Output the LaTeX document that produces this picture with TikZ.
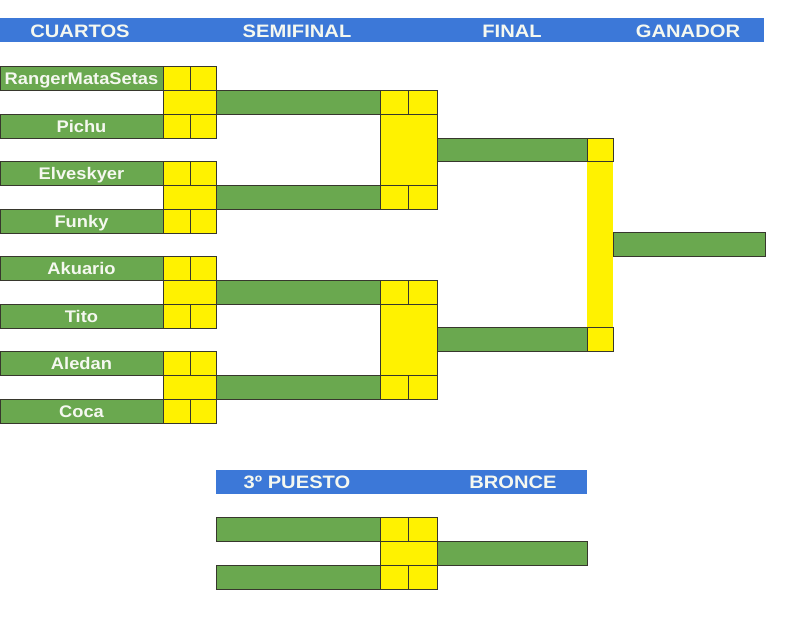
\documentclass[tikz,border=0pt]{standalone}
\usepackage{fontspec}
\setmainfont{Liberation Sans}
\usepackage{graphicx}
\definecolor{gr}{RGB}{106,168,79}
\definecolor{hb}{RGB}{60,120,216}
\definecolor{ln}{RGB}{55,55,45}
\definecolor{tx}{RGB}{245,248,240}
\newcommand\hdrtxt[1]{\scalebox{1.12}[1]{\fontsize{18}{18}\selectfont\bfseries #1}}
\newcommand\nametxt[1]{\scalebox{1.09}[1]{\fontsize{16.8}{17}\selectfont\bfseries #1}}
\tikzset{
  cell/.style={inner sep=0pt, outer sep=0pt, anchor=north west, line width=0.8pt},
  gbar/.style={cell, draw=ln, fill=gr, text=tx, text height=12.5pt, text depth=0pt},
  ybox/.style={cell, draw=ln, fill=yellow},
  yfill/.style={cell, fill=yellow},
  hbar/.style={cell, fill=hb},
  hlabel/.style={text=tx, inner sep=0pt, anchor=base}
}
\begin{document}
\begin{tikzpicture}[x=1pt,y=-1pt]
\useasboundingbox (0,0) rectangle (800,625);
% header
\node[hbar, minimum width=764pt, minimum height=24pt] (hdr) at (0,18) {};
\node[hlabel] (hc) at (80,37.3) {\hdrtxt{CUARTOS}};
\node[hlabel] (hs) at (297,37.3) {\hdrtxt{SEMIFINAL}};
\node[hlabel] (hf) at (512,37.3) {\hdrtxt{FINAL}};
\node[hlabel] (hg) at (688,37.3) {\hdrtxt{GANADOR}};
% quarter-finals
\foreach \b/\na/\nb/\k in {66/RangerMataSetas/Pichu/1, 161/Elveskyer/Funky/2, 256/Akuario/Tito/3, 351/Aledan/Coca/4}{
  \node[gbar, minimum width=163pt, minimum height=24pt] (qa\k) at (0,\b) {\nametxt{\na}};
  \node[gbar, minimum width=163pt, minimum height=24pt] (qb\k) at (0,\b+48) {\nametxt{\nb}};
  \node[ybox, minimum width=27pt, minimum height=24pt] (qa\k y1) at (163,\b) {};
  \node[ybox, minimum width=26pt, minimum height=24pt] (qa\k y2) at (190,\b) {};
  \node[ybox, minimum width=53pt, minimum height=24pt] (qm\k) at (163,\b+24) {};
  \node[ybox, minimum width=27pt, minimum height=24pt] (qb\k y1) at (163,\b+48) {};
  \node[ybox, minimum width=26pt, minimum height=24pt] (qb\k y2) at (190,\b+48) {};
  \node[gbar, minimum width=164pt, minimum height=24pt] (s\k) at (216,\b+24) {};
}
% semifinal yellow blocks
\foreach \t/\k in {90/1, 280/2}{
  \node[ybox, minimum width=28pt, minimum height=24pt] (sa\k y1) at (380,\t) {};
  \node[ybox, minimum width=29pt, minimum height=24pt] (sa\k y2) at (408,\t) {};
  \node[ybox, minimum width=57pt, minimum height=71pt] (sm\k) at (380,\t+24) {};
  \node[ybox, minimum width=28pt, minimum height=24pt] (sb\k y1) at (380,\t+95) {};
  \node[ybox, minimum width=29pt, minimum height=24pt] (sb\k y2) at (408,\t+95) {};
}
% final
\node[gbar, minimum width=150pt, minimum height=23pt] (f1) at (437,138) {};
\node[gbar, minimum width=150pt, minimum height=24pt] (f2) at (437,327) {};
\node[yfill, minimum width=26pt, minimum height=166pt] (fbar) at (587,161) {};
\node[ybox, minimum width=26pt, minimum height=23pt] (fy1) at (587,138) {};
\node[ybox, minimum width=26pt, minimum height=24pt] (fy2) at (587,327) {};
% winner
\node[gbar, minimum width=152pt, minimum height=24pt] (win) at (613,232) {};
% third place
\node[hbar, minimum width=371pt, minimum height=24pt] (hdr3) at (216,470) {};
\node[hlabel] (h3p) at (297,488.3) {\hdrtxt{3º PUESTO}};
\node[hlabel] (h3b) at (513,488.3) {\hdrtxt{BRONCE}};
\node[gbar, minimum width=164pt, minimum height=24pt] (t1) at (216,517) {};
\node[gbar, minimum width=164pt, minimum height=24pt] (t2) at (216,565) {};
\node[ybox, minimum width=28pt, minimum height=24pt] (t1y1) at (380,517) {};
\node[ybox, minimum width=29pt, minimum height=24pt] (t1y2) at (408,517) {};
\node[ybox, minimum width=57pt, minimum height=24pt] (tm) at (380,541) {};
\node[ybox, minimum width=28pt, minimum height=24pt] (t2y1) at (380,565) {};
\node[ybox, minimum width=29pt, minimum height=24pt] (t2y2) at (408,565) {};
\node[gbar, minimum width=150pt, minimum height=24pt] (bronze) at (437,541) {};
\end{tikzpicture}
\end{document}
